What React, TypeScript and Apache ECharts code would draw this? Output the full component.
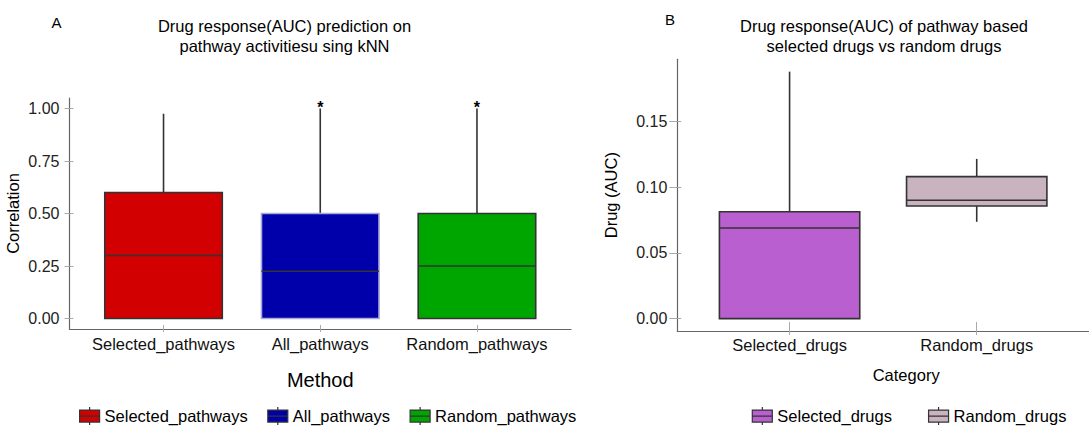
import React, { useEffect, useRef } from "react";
import * as echarts from "echarts";

// Panel A: drug response prediction by method
const methodCats = ["Selected_pathways", "All_pathways", "Random_pathways"];
const methodColors = ["#D20000", "#0000AA", "#00A600"];
const methodBorders = ["#333333", "#A8A8D8", "#333333"];
const methodMin = [0, 0, 0];
const methodQ1 = [0, 0, 0];
const methodMedian = [0.3, 0.225, 0.25];
const methodQ3 = [0.6, 0.5, 0.5];
const methodMax = [0.975, 1.0, 1.0];
const methodMarks = ["", "*", "*"];
const methodTicks = [0, 0.25, 0.5, 0.75, 1.0];

// Panel B: drug AUC by category
const drugCats = ["Selected_drugs", "Random_drugs"];
const drugColors = ["#B95FD0", "#C8B3BE"];
const drugMin = [0, 0.0737];
const drugQ1 = [0, 0.0857];
const drugMedian = [0.069, 0.0901];
const drugQ3 = [0.0814, 0.1081];
const drugMax = [0.188, 0.1216];
const drugTicks = [0, 0.05, 0.1, 0.15];

const FONT = "Liberation Sans, Arial, Helvetica, sans-serif";
const LEGEND_ICON =
  "path://M10,0L10,3M0,3L20,3L20,15L0,15ZM0,9L20,9M10,15L10,18";

function boxSeries(
  name: string,
  idx: number,
  axisIndex: number,
  vals: number[],
  fill: string,
  border: string,
  mark: string
) {
  return {
    type: "custom",
    name,
    xAxisIndex: axisIndex,
    yAxisIndex: axisIndex,
    itemStyle: { color: fill },
    data: [[idx + 1, ...vals]],
    renderItem: (params: any, api: any) => {
      const x = api.value(0);
      const lo = api.coord([x, api.value(1)]);
      const q1 = api.coord([x, api.value(2)]);
      const med = api.coord([x, api.value(3)]);
      const q3 = api.coord([x, api.value(4)]);
      const hi = api.coord([x, api.value(5)]);
      const half = api.size([0.75, 0])[0] / 2;
      const cx = hi[0];
      const children: any[] = [
        {
          type: "line",
          shape: { x1: cx, y1: hi[1], x2: cx, y2: q3[1] },
          style: { stroke: "#333333", lineWidth: 1.6 },
        },
        {
          type: "line",
          shape: { x1: cx, y1: q1[1], x2: cx, y2: lo[1] },
          style: { stroke: "#333333", lineWidth: 1.6 },
        },
        {
          type: "rect",
          shape: { x: cx - half, y: q3[1], width: half * 2, height: q1[1] - q3[1] },
          style: { fill, stroke: border, lineWidth: 1.6 },
        },
        {
          type: "line",
          shape: { x1: cx - half, y1: med[1], x2: cx + half, y2: med[1] },
          style: { stroke: "#333333", lineWidth: 1.6 },
        },
      ];
      if (mark) {
        children.push({
          type: "text",
          x: cx,
          y: hi[1] - 1,
          style: {
            text: mark,
            fill: "#000",
            font: "bold 16px " + FONT,
            align: "center",
            verticalAlign: "middle",
          },
        });
      }
      return { type: "group", children };
    },
  };
}

function valueY(
  gridIndex: number,
  min: number,
  max: number,
  ticks: number[],
  main: boolean,
  tickOut: number,
  tickIn: number,
  name: string,
  nameGap: number,
  labelPad: number[]
) {
  if (!main) {
    return {
      type: "value",
      gridIndex,
      position: "left",
      offset: 0,
      min,
      max,
      axisLine: { show: false, onZero: false },
      axisLabel: { show: false },
      splitLine: { show: false },
      axisTick: {
        show: true,
        inside: true,
        length: tickIn,
        customValues: ticks,
        lineStyle: { color: "#AAAAAA" },
      },
    };
  }
  return {
    type: "value",
    gridIndex,
    position: "left",
    offset: 0,
    min,
    max,
    name,
    nameLocation: "middle",
    nameGap,
    nameTextStyle: { fontSize: 16.5, color: "#000", fontFamily: FONT },
    axisLine: { show: true, onZero: false, lineStyle: { color: "#666666", width: 1.2 } },
    splitLine: { show: false },
    axisTick: {
      show: true,
      length: tickOut,
      customValues: ticks,
      lineStyle: { color: "#AAAAAA" },
    },
    axisLabel: {
      customValues: ticks,
      formatter: (v: number) => v.toFixed(2),
      fontSize: 16,
      color: "#222",
      fontFamily: FONT,
      margin: 10,
      verticalAlign: "middle",
      padding: labelPad,
    },
  };
}

function catX(
  gridIndex: number,
  max: number,
  cats: string[],
  main: boolean,
  tickOut: number,
  tickIn: number,
  name: string,
  nameGap: number,
  nameSize: number,
  namePad: number[],
  labelMargin: number
) {
  const positions = cats.map((_, i) => i + 1);
  if (!main) {
    return {
      type: "value",
      gridIndex,
      position: "bottom",
      offset: 0,
      min: 0.4,
      max,
      axisLine: { show: false, onZero: false },
      axisLabel: { show: false },
      splitLine: { show: false },
      axisTick: {
        show: true,
        inside: true,
        length: tickIn,
        customValues: positions,
        lineStyle: { color: "#AAAAAA" },
      },
    };
  }
  return {
    type: "value",
    gridIndex,
    position: "bottom",
    offset: 0,
    min: 0.4,
    max,
    name,
    nameLocation: "middle",
    nameGap,
    nameTextStyle: { fontSize: nameSize, color: "#000", fontFamily: FONT, padding: namePad },
    axisLine: { show: true, onZero: false, lineStyle: { color: "#666666", width: 1.2 } },
    splitLine: { show: false },
    axisTick: {
      show: true,
      length: tickOut,
      customValues: positions,
      lineStyle: { color: "#AAAAAA" },
    },
    axisLabel: {
      customValues: positions,
      formatter: (v: number) => cats[Math.round(v) - 1] ?? "",
      fontSize: 16.5,
      color: "#111",
      fontFamily: FONT,
      margin: labelMargin,
    },
  };
}

export default function App() {
  const ref = useRef<HTMLDivElement>(null);

  useEffect(() => {
    if (!ref.current) return;
    const chart = echarts.init(ref.current, undefined, { renderer: "svg" });

    const seriesA = methodCats.map((c, i) =>
      boxSeries(
        c,
        i,
        0,
        [methodMin[i], methodQ1[i], methodMedian[i], methodQ3[i], methodMax[i]],
        methodColors[i],
        methodBorders[i],
        methodMarks[i]
      )
    );
    const seriesB = drugCats.map((c, i) =>
      boxSeries(
        c,
        i,
        2,
        [drugMin[i], drugQ1[i], drugMedian[i], drugQ3[i], drugMax[i]],
        drugColors[i],
        "#333333",
        ""
      )
    );

    const titleStyle = {
      fontSize: 16.5,
      fontWeight: "normal",
      color: "#000",
      fontFamily: FONT,
      lineHeight: 20,
    };

    chart.setOption({
      animation: false,
      textStyle: { fontFamily: FONT },
      title: [
        {
          text: "Drug response(AUC) prediction on\npathway activitiesu sing kNN",
          left: 284.5,
          top: 16,
          padding: 0,
          textAlign: "center",
          textStyle: titleStyle,
        },
        {
          text: "Drug response(AUC) of pathway based\nselected drugs vs random drugs",
          left: 884,
          top: 15.5,
          padding: 0,
          textAlign: "center",
          textStyle: titleStyle,
        },
        {
          text: "A",
          left: 51.5,
          top: 15,
          padding: 0,
          textStyle: { fontSize: 15, fontWeight: "normal", color: "#000", fontFamily: FONT },
        },
        {
          text: "B",
          left: 665,
          top: 12,
          padding: 0,
          textStyle: { fontSize: 15, fontWeight: "normal", color: "#000", fontFamily: FONT },
        },
      ],
      legend: [
        {
          data: methodCats,
          left: 79,
          top: 406.5,
          padding: 0,
          orient: "horizontal",
          itemWidth: 20,
          itemHeight: 18,
          itemGap: 19.5,
          icon: LEGEND_ICON,
          selectedMode: false,
          itemStyle: { borderColor: "#333333", borderWidth: 1.2 },
          textStyle: { fontSize: 16.5, color: "#000", fontFamily: FONT },
        },
        {
          data: drugCats,
          left: 751.7,
          top: 406.5,
          padding: 0,
          orient: "horizontal",
          itemWidth: 20,
          itemHeight: 18,
          itemGap: 36,
          icon: LEGEND_ICON,
          selectedMode: false,
          itemStyle: { borderColor: "#333333", borderWidth: 1.2 },
          textStyle: { fontSize: 16.5, color: "#000", fontFamily: FONT },
        },
      ],
      grid: [
        { left: 69.5, right: 518, top: 98, bottom: 97, containLabel: false },
        { left: 677.3, right: -10.5, top: 59.3, bottom: 95, containLabel: false },
      ],
      xAxis: [
        catX(0, 3.6, methodCats, true, 3, 4, "Method", 41, 20, [0, 0, 0, 0], 6.75),
        catX(0, 3.6, methodCats, false, 3, 4, "", 0, 0, [0, 0, 0, 0], 0),
        catX(1, 2.6, drugCats, true, 4, 9, "Category", 35.7, 16.5, [0, 0, 0, 46], 5),
        catX(1, 2.6, drugCats, false, 4, 9, "", 0, 0, [0, 0, 0, 0], 0),
      ],
      yAxis: [
        valueY(0, -0.05, 1.05, methodTicks, true, 5, 4, "Correlation", 48, [0, 0, 0, 0]),
        valueY(0, -0.05, 1.05, methodTicks, false, 5, 4, "", 0, [0, 0, 0, 0]),
        valueY(1, -0.0094, 0.1974, drugTicks, true, 8, 4, "Drug (AUC)", 58, [0, 0, 7, 0]),
        valueY(1, -0.0094, 0.1974, drugTicks, false, 8, 4, "", 0, [0, 0, 0, 0]),
      ],
      series: [...seriesA, ...seriesB],
    });

    return () => chart.dispose();
  }, []);

  return (
    <div
      ref={ref}
      style={{ position: "absolute", left: 0, top: 0, width: 1089, height: 426, background: "#fff" }}
    />
  );
}
